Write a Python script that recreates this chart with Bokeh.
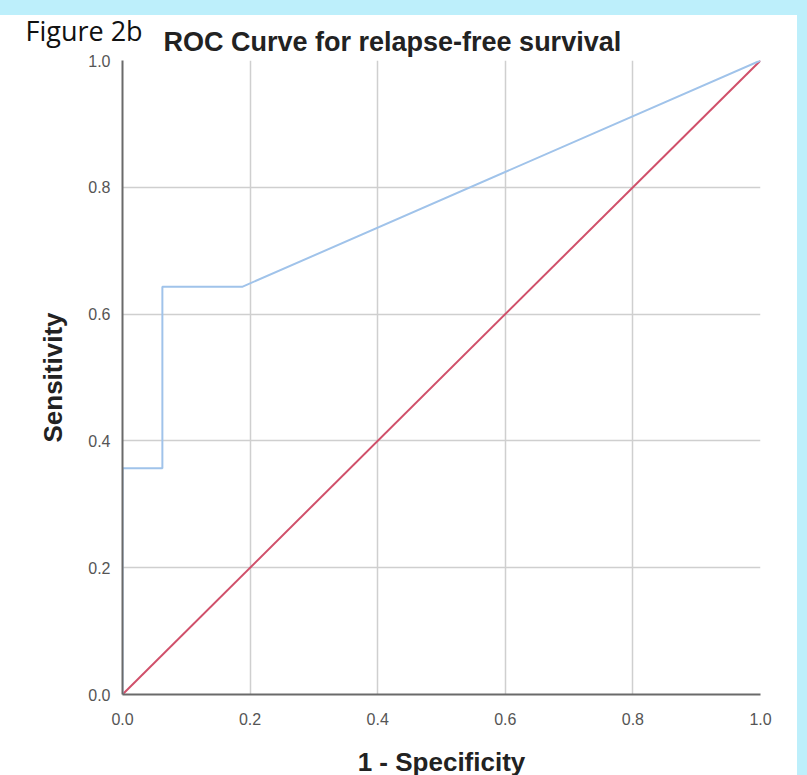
from bokeh.plotting import figure
from bokeh.models import Range1d, Title, FixedTicker
from bokeh.embed import file_html
from bokeh.resources import INLINE

# ROC data
fpr = [0.0, 0.0, 0.0625, 0.0625, 0.1875, 1.0]
tpr = [0.0, 0.357, 0.357, 0.643, 0.643, 1.0]
ref_x = [0.0, 1.0]
ref_y = [0.0, 1.0]
ticks = [0.0, 0.2, 0.4, 0.6, 0.8, 1.0]
tick_labels = {0.0: "0.0", 0.2: "0.2", 0.4: "0.4", 0.6: "0.6", 0.8: "0.8", 1.0: "1.0"}

CYAN = "#bdeffb"

p = figure(width=807, height=775, output_backend="svg", toolbar_location=None,
           x_range=Range1d(0, 1), y_range=Range1d(0, 1),
           min_border_left=122, min_border_right=47, min_border_top=60, min_border_bottom=81,
           frame_width=638, frame_height=634,
           title="Figure 2b")
p.border_fill_alpha = 0
p.background_fill_color = "white"
p.outline_line_color = None
p.styles = {"background": f"linear-gradient(to bottom, {CYAN} 0px, {CYAN} 15px, transparent 15px), "
                          f"linear-gradient(to left, {CYAN} 0px, {CYAN} 10px, white 10px)"}

# outer title: figure tag
p.title.align = "left"
p.title.offset = -97
p.title.standoff = -54
p.title.text_font = "Open Sans"
p.title.text_font_style = "normal"
p.title.text_font_size = "27px"
p.title.text_color = "#111111"

# inner title: chart title
p.add_layout(Title(text="ROC Curve for relapse-free survival", align="left", offset=41, standoff=7,
                   text_font="Liberation Sans", text_font_style="bold", text_font_size="27px",
                   text_color="#222222"), "above")

for ax in (p.xaxis[0], p.yaxis[0]):
    ax.ticker = FixedTicker(ticks=ticks)
    ax.major_label_overrides = tick_labels
    ax.major_tick_line_color = None
    ax.minor_tick_line_color = None
    ax.axis_line_color = "#6a6a6a"
    ax.axis_line_width = 2
    ax.major_label_text_font = "Liberation Sans"
    ax.major_label_text_font_size = "16px"
    ax.major_label_text_color = "#555555"
    ax.axis_label_text_font = "Liberation Sans"
    ax.axis_label_text_font_style = "bold"
    ax.axis_label_text_color = "#222222"

p.xaxis.axis_label = "1 - Specificity"
p.yaxis.axis_label = "Sensitivity"
p.xaxis.axis_label_text_font_size = "26px"
p.yaxis.axis_label_text_font_size = "26px"
p.xaxis.major_label_standoff = 12
p.yaxis.major_label_standoff = 6
p.xaxis.axis_label_standoff = 19
p.yaxis.axis_label_standoff = 17

p.grid.grid_line_color = "#cfcfcf"
p.grid.grid_line_width = 1.5
p.xgrid.ticker = FixedTicker(ticks=ticks)
p.ygrid.ticker = FixedTicker(ticks=ticks)

p.line(ref_x, ref_y, line_color="#d0506a", line_width=2)
p.line(fpr, tpr, line_color="#a0c3ea", line_width=2)

open("out.html", "w").write(file_html(p, INLINE))
